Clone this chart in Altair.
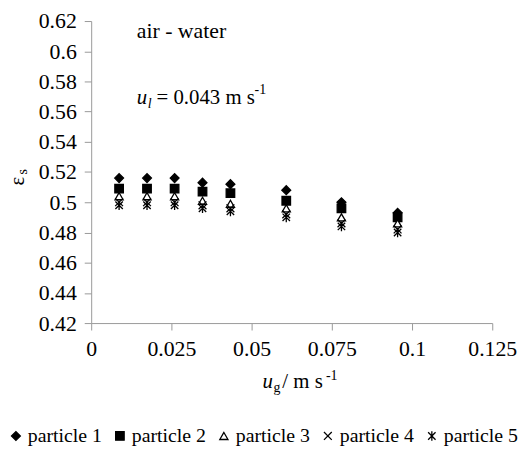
import altair as alt
import pandas as pd

# ---- data ----
ug = [0.0087, 0.0174, 0.0260, 0.0347, 0.0434, 0.0608, 0.0780, 0.0955]
p1 = [0.516, 0.516, 0.516, 0.513, 0.512, 0.508, 0.500, 0.493]
p2 = [0.509, 0.509, 0.509, 0.507, 0.506, 0.501, 0.496, 0.490]
p3 = [0.504, 0.504, 0.504, 0.501, 0.499, 0.496, 0.490, 0.486]
p4 = [0.500, 0.500, 0.500, 0.498, 0.496, 0.492, 0.486, 0.482]
p5 = [0.498, 0.498, 0.498, 0.496, 0.494, 0.490, 0.484, 0.480]
particles = ["particle 1", "particle 2", "particle 3", "particle 4", "particle 5"]
x_ticks = [0, 0.025, 0.05, 0.075, 0.1, 0.125]
y_ticks = [0.42, 0.44, 0.46, 0.48, 0.5, 0.52, 0.54, 0.56, 0.58, 0.6, 0.62]

rows = []
for name, vals in zip(particles, [p1, p2, p3, p4, p5]):
    for xv, yv in zip(ug, vals):
        rows.append({"particle": name, "ug": xv, "eps": yv})
df = pd.DataFrame(rows)

shapes = ["diamond", "square", "triangle-up",
          "M-1,-1L1,1M-1,1L1,-1",
          "M-1,-1L1,1M-1,1L1,-1M0,-1.3L0,1.3"]
fills = ["black", "black", "white", "transparent", "transparent"]
strokes = ["black"] * 5
sizes = [80, 56, 56, 42, 52]

FONT = "Liberation Serif"

leg = alt.Legend(title=None)
points = alt.Chart(df).mark_point(
    strokeWidth=1.3, opacity=1
).encode(
    x=alt.X("ug:Q", scale=alt.Scale(domain=[0, 0.125], nice=False, zero=False),
            axis=alt.Axis(values=x_ticks, format=".3~g", title=None,
                          labelFlush=False, labelPadding=9)),
    y=alt.Y("eps:Q", scale=alt.Scale(domain=[0.42, 0.62], nice=False, zero=False),
            axis=alt.Axis(values=y_ticks, format=".2~g", title=None,
                          labelPadding=8)),
    shape=alt.Shape("particle:N", scale=alt.Scale(domain=particles, range=shapes),
                    legend=leg),
    fill=alt.Fill("particle:N", scale=alt.Scale(domain=particles, range=fills),
                  legend=leg),
    stroke=alt.Stroke("particle:N", scale=alt.Scale(domain=particles, range=strokes),
                      legend=leg),
    size=alt.Size("particle:N", scale=alt.Scale(domain=particles, range=sizes),
                  legend=leg),
)

one = pd.DataFrame({"a": [0]})

def txt(s, x, y, size=21, style="normal", angle=0, align="left"):
    kw = dict(font=FONT, fontSize=size, fontStyle=style, color="black",
              align=align, baseline="alphabetic")
    if angle:
        kw["angle"] = angle
    return alt.Chart(one).mark_text(**kw).encode(
        x=alt.value(x), y=alt.value(y), text=alt.value(s))

annotations = [
    txt("air - water", 46, 17, size=22),
    txt("u", 46, 84, style="italic"),
    txt("l", 57, 88, size=14, style="italic"),
    txt("= 0.043 m s", 66, 84),
    txt("-1", 165, 74, size=14),
    # x-axis title
    txt("u", 173, 371, style="italic"),
    txt("g", 184, 375, size=14),
    txt("/ m s", 193, 371),
    txt("-1", 237, 362, size=14),
    # y-axis title
    txt("ε", -68, 166, size=21, angle=270),
    txt("s", -65, 155, size=14, angle=270),
]

chart = alt.layer(points, *annotations).properties(
    width=405, height=305,
    autosize=alt.AutoSizeParams(type="none"),
    padding={"left": 84, "top": 11, "right": 26, "bottom": 126},
).configure_view(
    stroke="transparent"
).configure_axis(
    grid=False, domainColor="#999999", tickColor="#999999", tickSize=7,
    labelFont=FONT, labelFontSize=22, labelColor="black",
).configure_legend(
    orient="none", legendX=-86, legendY=409, direction="horizontal", columns=5,
    labelFont=FONT, labelFontSize=20, labelColor="black",
    symbolStrokeWidth=1.3, labelOffset=2,
    columnPadding=8, symbolOpacity=1,
)

chart.save("out.html", embed_options={"renderer": "svg", "actions": False})
